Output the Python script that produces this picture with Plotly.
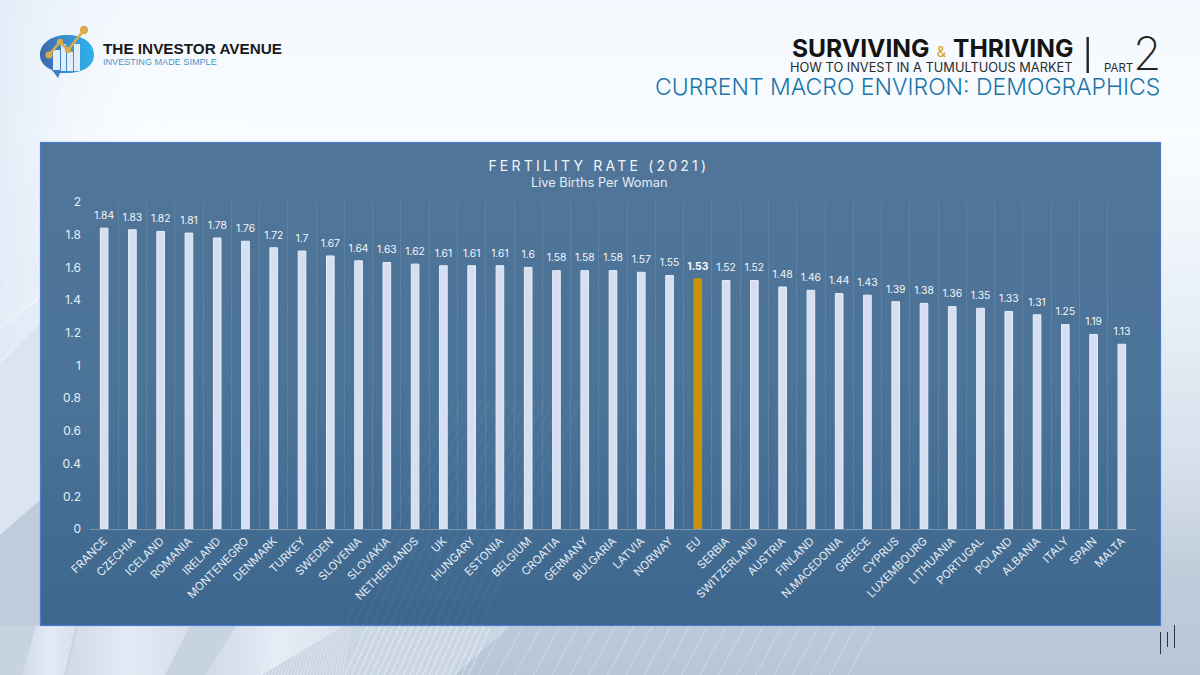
import base64
import plotly.graph_objects as go

countries = ["FRANCE", "CZECHIA", "ICELAND", "ROMANIA", "IRELAND", "MONTENEGRO", "DENMARK", "TURKEY",
             "SWEDEN", "SLOVENIA", "SLOVAKIA", "NETHERLANDS", "UK", "HUNGARY", "ESTONIA", "BELGIUM",
             "CROATIA", "GERMANY", "BULGARIA", "LATVIA", "NORWAY", "EU", "SERBIA", "SWITZERLAND",
             "AUSTRIA", "FINLAND", "N.MACEDONIA", "GREECE", "CYPRUS", "LUXEMBOURG", "LITHUANIA",
             "PORTUGAL", "POLAND", "ALBANIA", "ITALY", "SPAIN", "MALTA"]
fertility = [1.84, 1.83, 1.82, 1.81, 1.78, 1.76, 1.72, 1.7, 1.67, 1.64, 1.63, 1.62, 1.61, 1.61, 1.61, 1.6,
             1.58, 1.58, 1.58, 1.57, 1.55, 1.53, 1.52, 1.52, 1.48, 1.46, 1.44, 1.43, 1.39, 1.38, 1.36,
             1.35, 1.33, 1.31, 1.25, 1.19, 1.13]
y_ticks = [0, 0.2, 0.4, 0.6, 0.8, 1, 1.2, 1.4, 1.6, 1.8, 2]
y_tick_labels = ["0", "0.2", "0.4", "0.6", "0.8", "1", "1.2", "1.4", "1.6", "1.8", "2"]

# plot area in page pixels
L, R, T, B = 90, 1136, 202, 529


def px(x):
    return (x - L) / (R - L)


def py(y):
    return (B - y) / (B - T)


# slide artwork (background, panel, logo) goes in as one svg image behind the plot
curves = "".join(
    f'<path d="M{-40 + i * 5} {362 - i * 4} C{10 + i * 8} {300 - i * 5} {40 + i * 12} {200 - i * 3} {70 + i * 15} 60" '
    f'fill="none" stroke="#fff" stroke-opacity=".45" stroke-width=".7"/>' for i in range(16)
)
dense = "".join(
    f'<path d="M{262 + i * 3.2} 675 L{345 + i * 2} 400" stroke="#fff" stroke-opacity=".55" stroke-width=".6"/>'
    for i in range(26)
)
medium = "".join(
    f'<path d="M{345 + i * 6.5} 675 L{470 + i * 6.5} 400" stroke="#fff" stroke-opacity=".55" stroke-width=".9"/>'
    for i in range(20)
)
sparse = "".join(
    f'<path d="M{478 + i * 18.5} 675 L{505 + i * 18.5} 625" stroke="#fff" stroke-opacity=".4" stroke-width=".8"/>'
    for i in range(21)
)
panel_hatch = "".join(
    f'<path d="M{345 + i * 9} 626 L{445 + i * 9} 400" stroke="#fff" stroke-opacity=".035" stroke-width="2"/>'
    for i in range(16)
)
svg = f'''<svg xmlns="http://www.w3.org/2000/svg" width="1200" height="675" viewBox="0 0 1200 675">
<defs>
<linearGradient id="bg" x1="0" y1="0" x2="0" y2="1">
<stop offset="0" stop-color="#f3f8fe"/><stop offset=".2" stop-color="#fafdff"/>
<stop offset=".48" stop-color="#e6eef6"/><stop offset=".7" stop-color="#d5dfea"/>
<stop offset=".85" stop-color="#c0ccda"/><stop offset="1" stop-color="#b9c6d8"/></linearGradient>
<linearGradient id="side" x1="0" y1="0" x2="1" y2="0">
<stop offset="0" stop-color="#dfe9f6" stop-opacity=".8"/><stop offset=".35" stop-color="#eef4fb" stop-opacity="0"/></linearGradient>
<linearGradient id="band" x1="0" y1="0" x2="1" y2="0">
<stop offset="0" stop-color="#e6edf7" stop-opacity=".25"/><stop offset=".5" stop-color="#e6edf7" stop-opacity=".9"/>
<stop offset="1" stop-color="#e6edf7" stop-opacity=".45"/></linearGradient>
<linearGradient id="panel" x1="0" y1="0" x2="0" y2="1">
<stop offset="0" stop-color="#507598"/><stop offset=".55" stop-color="#4b7398"/>
<stop offset="1" stop-color="#3d668e"/></linearGradient>
<linearGradient id="bubble" x1="0" y1="0" x2="1" y2="0">
<stop offset="0" stop-color="#3b69aa"/><stop offset=".5" stop-color="#3c8fd2"/>
<stop offset="1" stop-color="#2db4ee"/></linearGradient>
</defs>
<rect width="1200" height="675" fill="url(#bg)"/>
<rect width="400" height="420" fill="url(#side)"/>
<path d="M0 362 L40 322 V526 L0 560 Z" fill="#dbe5f0"/>
<path d="M0 362 L40 322" stroke="#fff" stroke-opacity=".7" stroke-width="1"/>
<path d="M0 535 L40 500 V675 H0 Z" fill="#bfccdb"/>
<path d="M0 625 H345 L262 675 H0 Z" fill="#c8d3e1"/>
<path d="M36 626 H76 L64 675 H22 Z" fill="url(#band)"/>
<path d="M78 626 H190 L165 675 H66 Z" fill="url(#band)"/>
<path d="M236 626 H345 L262 675 H205 Z" fill="url(#band)"/>
<path d="M345 626 H510 L455 675 H262 Z" fill="#cbd6e4"/>
{curves}{dense}{medium}{sparse}
<rect x="40.5" y="142.5" width="1120" height="483" fill="url(#panel)" stroke="#4a7bd0" stroke-width="1.2"/>
{panel_hatch}
<path d="M40 55 C40 43 52 35 67 35 C83 35 94 43 94 55 C94 66 83 73 67 73 L60 73 L58 78 L52 70 C45 67 40 62 40 55 Z" fill="url(#bubble)"/>
<g fill="#e3edf8"><rect x="53" y="50" width="7" height="20"/><rect x="61" y="44" width="5" height="27"/>
<rect x="67" y="52" width="6" height="19"/><rect x="74" y="44" width="6" height="27"/></g>
<path d="M49 55 L60 42 L68 50 L84 30" fill="none" stroke="#d9ab4c" stroke-width="2.6"/>
<g fill="#d9ab4c"><circle cx="84" cy="30" r="4.2"/><circle cx="49" cy="55" r="3.6"/><circle cx="60" cy="42" r="3.2"/><circle cx="68" cy="50" r="3.2"/></g>
<rect x="1086.5" y="37" width="2.4" height="36" fill="#222"/>
<g stroke="#2b3440" stroke-width="1"><path d="M1160.5 632 V654"/><path d="M1167.5 632 V647"/><path d="M1174.5 625 V648"/></g>
</svg>'''
svg_uri = "data:image/svg+xml;base64," + base64.b64encode(svg.encode()).decode()

bar_colors = ["#c8930a" if c == "EU" else "#d6dff0" for c in countries]
line_colors = ["#c8930a" if c == "EU" else "#e9eef8" for c in countries]
bar_text = [f"<b>{v}</b>" if c == "EU" else str(v) for c, v in zip(countries, fertility)]

fig = go.Figure(go.Bar(
    x=countries,
    y=fertility,
    width=0.27,
    marker=dict(color=bar_colors, line=dict(color=line_colors, width=1)),
    hoverinfo="x+y",
))
# value labels as a second trace: the bar's own outside text sits too close to the bar
fig.add_trace(go.Scatter(
    x=countries,
    y=fertility,
    mode="markers+text",
    text=bar_text,
    textposition="top center",
    cliponaxis=False,
    marker=dict(size=9, opacity=0),
    textfont=dict(family="Inter", size=10.3, color="#f4f7fb"),
    hoverinfo="skip",
))


def note(x, y, text, size, color, family="Inter", anchor="right", weight=None):
    fig.add_annotation(x=px(x), y=py(y), xref="paper", yref="paper", text=text, showarrow=False,
                       xanchor=anchor, yanchor="middle",
                       font=dict(family=family, size=size, color=color, weight=weight))


note(101, 48, "<b>THE INVESTOR AVENUE</b>", 15.3, "#1a1a1a", "Liberation Sans", "left")
note(101, 62, "INVESTING MADE SIMPLE", 9.1, "#4c93c4", "Liberation Sans", "left")
note(1075, 47.5, "<b>SURVIVING</b> <span style='color:#d9a21b;font-size:15px'>&</span> <b>THRIVING</b>", 24.6, "#141414")
note(1075, 67.5, "HOW TO INVEST IN A TUMULTUOUS MARKET", 12.8, "#2a2a2a")
note(1135, 67.5, "PART", 11.5, "#2a2a2a")
note(1163, 53.5, "2", 46, "#222222", weight=200)
note(1162, 87, "CURRENT MACRO ENVIRON: DEMOGRAPHICS", 23, "#1a75ab", weight=300)
note(598.5, 165, "FERTILITY RATE (2021)", 14, "#f0f4f8", anchor="center")
note(599.5, 182, "Live Births Per Woman", 12.8, "#e6edf4", anchor="center")

fig.update_layout(
    width=1200,
    height=675,
    margin=dict(l=L, r=1200 - R, t=T, b=675 - B),
    paper_bgcolor="#ffffff",
    plot_bgcolor="rgba(0,0,0,0)",
    showlegend=False,
    bargap=0.7,
    images=[dict(source=svg_uri, xref="paper", yref="paper", x=px(0), y=py(0), sizex=1200 / (R - L),
                 sizey=675 / (B - T), xanchor="left", yanchor="top", sizing="stretch", layer="below")],
)
fig.update_xaxes(
    type="category",
    range=[-0.5, len(countries) - 0.5],
    tickson="boundaries",
    tickangle=-45,
    ticks="",
    showgrid=True,
    gridcolor="rgba(255,255,255,0.10)",
    gridwidth=1,
    showline=True,
    linecolor="rgba(255,255,255,0.28)",
    tickfont=dict(family="Inter", size=11.3, color="#e6edf4"),
)
fig.update_yaxes(
    range=[0, 2],
    tickvals=y_ticks,
    ticktext=y_tick_labels,
    showgrid=False,
    zeroline=False,
    ticks="",
    ticklabelstandoff=8,
    tickfont=dict(family="Inter", size=12, color="#e6edf4"),
)

post = """
document.body.style.margin = '0';
document.querySelectorAll('.annotation-text').forEach(function (t) {
  if (t.textContent.indexOf('FERTILITY') === 0) { t.style.letterSpacing = '3.2px'; }
});
"""
fig.write_html("out.html", post_script=post, config={"displayModeBar": False})
